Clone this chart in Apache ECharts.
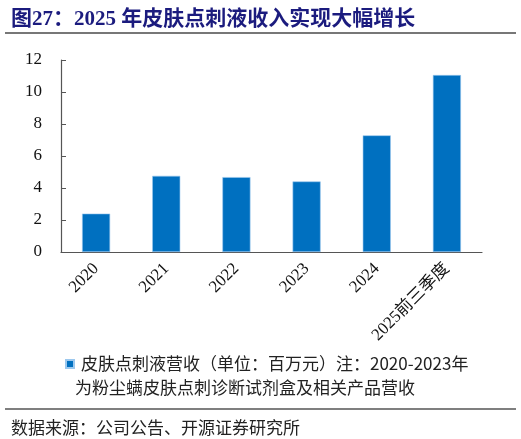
<!DOCTYPE html>
<html>
<head>
<meta charset="utf-8">
<script src="https://cdn.jsdelivr.net/npm/echarts@6/dist/echarts.min.js"></script>
<style>
html, body { margin: 0; padding: 0; background: #fff; }
#main { width: 521px; height: 439px; }
</style>
</head>
<body>
<div id="main"></div>
<script>
// 数据
var categories = ['2020', '2021', '2022', '2023', '2024', '2025前三季度'];
var revenue = [2.40, 4.76, 4.68, 4.41, 7.29, 11.06];
var legendLines = ['皮肤点刺液营收（单位：百万元）注：2020-2023年', '为粉尘螨皮肤点刺诊断试剂盒及相关产品营收'];

var serif = '"Times New Roman", "Liberation Serif", "Noto Sans CJK SC", serif';
var cjk = '"Noto Sans CJK SC", "Liberation Serif", serif';

var myChart = echarts.init(document.getElementById('main'));

var option = {
    animation: false,
    backgroundColor: '#fff',
    title: [{
        text: '图27：2025 年皮肤点刺液收入实现大幅增长',
        left: 6,
        top: 4,
        textStyle: {
            color: '#1b1b7e',
            fontSize: 21,
            fontWeight: 'bold',
            fontFamily: serif
        }
    }, {
        text: '数据来源：公司公告、开源证券研究所',
        left: 6,
        top: 414,
        textStyle: {
            color: '#222',
            fontSize: 17,
            fontWeight: 'normal',
            fontFamily: cjk
        }
    }],
    graphic: [{
        type: 'line',
        shape: { x1: 5, y1: 33, x2: 516, y2: 33 },
        style: { stroke: '#777', lineWidth: 2 }
    }, {
        type: 'line',
        shape: { x1: 5, y1: 409, x2: 516, y2: 409 },
        style: { stroke: '#555', lineWidth: 1.5 }
    }, {
        // 图例第二行
        type: 'text',
        left: 75,
        top: 379,
        style: {
            text: legendLines[1],
            fill: '#222',
            font: '17px ' + cjk
        }
    }],
    legend: {
        left: 60,
        top: 349,
        icon: 'rect',
        itemWidth: 8,
        itemHeight: 8,
        itemGap: 4,
        formatter: function (name) { return name.split('\n')[0]; },
        textStyle: {
            color: '#222',
            fontSize: 17,
            lineHeight: 20,
            padding: [0, 0, 0, 2],
            fontFamily: cjk
        }
    },
    grid: {
        left: 61,
        right: 39,
        top: 60,
        bottom: 187
    },
    xAxis: {
        type: 'category',
        data: categories,
        axisLine: { lineStyle: { color: '#555', width: 1.2 } },
        axisTick: { inside: true, length: 5, lineStyle: { color: '#555' } },
        axisLabel: {
            rotate: 45,
            interval: 0,
            margin: 14,
            color: '#111',
            fontSize: 17,
            fontFamily: serif
        }
    },
    yAxis: {
        type: 'value',
        min: 0,
        max: 12,
        interval: 2,
        splitLine: { show: false },
        axisLine: { show: true, lineStyle: { color: '#555', width: 1.2 } },
        axisTick: { show: true, inside: true, length: 5, lineStyle: { color: '#555' } },
        axisLabel: {
            margin: 19,
            color: '#111',
            fontSize: 17,
            fontFamily: serif
        }
    },
    series: [{
        name: legendLines.join('\n'),
        type: 'bar',
        data: revenue,
        barWidth: '40%',
        itemStyle: {
            color: '#0070c0',
            borderColor: '#9cc8ee',
            borderWidth: 0.6
        }
    }]
};

myChart.setOption(option);
</script>
</body>
</html>
